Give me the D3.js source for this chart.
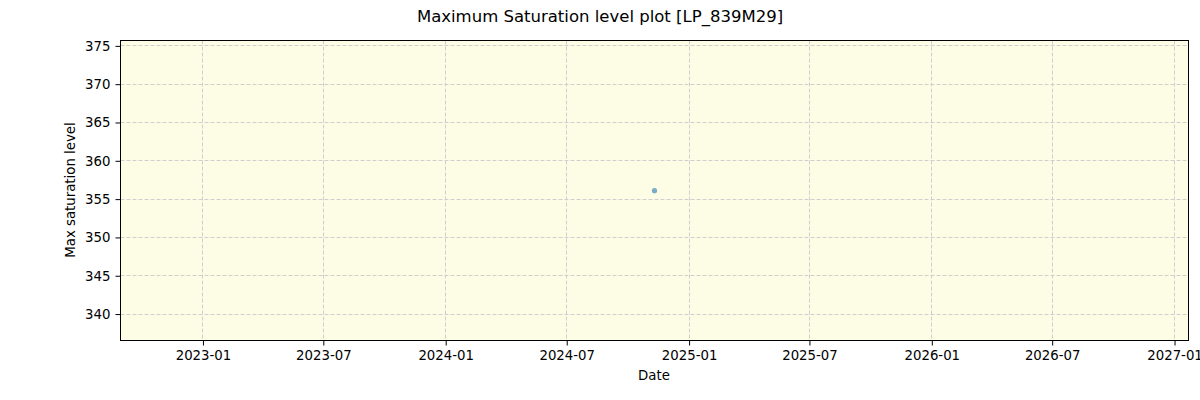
<!DOCTYPE html>
<html>
<head>
<meta charset="utf-8">
<script src="https://cdn.jsdelivr.net/npm/d3@7"></script>
<style>
  body { margin: 0; background: #fff; }
  svg { font-family: "DejaVu Sans", sans-serif; }
  .grid line { stroke: #cfcfcf; stroke-dasharray: 4,2; stroke-width: 1; }
</style>
</head>
<body>
<div id="chart"></div>
<script>
const WIDTH = 1200;
const HEIGHT = 400;
const margin = {top: 40.5, right: 11.5, bottom: 59.5, left: 120.5};

// data
var dates = ["2024-11-10"];
var maxSat = [356.1];
var yTicks = [340, 345, 350, 355, 360, 365, 370, 375];
var xTicks = ["2023-01-01", "2023-07-01", "2024-01-01", "2024-07-01", "2025-01-01", "2025-07-01", "2026-01-01", "2026-07-01", "2027-01-01"];
var xRange = ["2022-08-30", "2027-01-22"];
var yRange = [336.55, 375.7];

var parse = d3.timeParse("%Y-%m-%d");
var fmt = d3.timeFormat("%Y-%m");

var svg = d3.select("#chart").append("svg")
    .attr("width", WIDTH)
    .attr("height", HEIGHT);

var w = WIDTH - margin.left - margin.right;
var h = HEIGHT - margin.top - margin.bottom;

var x = d3.scaleTime().domain(xRange.map(parse)).range([0, w]);
var y = d3.scaleLinear().domain(yRange).range([h, 0]);

var g = svg.append("g").attr("transform", "translate(" + margin.left + "," + margin.top + ")");

g.append("rect")
    .attr("width", w)
    .attr("height", h)
    .attr("fill", "#fdfce4");

// grid
g.append("g").attr("class", "grid")
  .selectAll("line").data(xTicks.map(parse)).enter().append("line")
    .attr("x1", d => Math.round(x(d))).attr("x2", d => Math.round(x(d)))
    .attr("y1", 0).attr("y2", h);
g.append("g").attr("class", "grid")
  .selectAll("line").data(yTicks).enter().append("line")
    .attr("x1", 0).attr("x2", w)
    .attr("y1", d => Math.round(y(d))).attr("y2", d => Math.round(y(d)));

// points
g.selectAll("circle.pt").data(dates.map((d, i) => ({d: parse(d), v: maxSat[i]})))
  .enter().append("circle")
    .attr("class", "pt")
    .attr("cx", d => x(d.d))
    .attr("cy", d => y(d.v))
    .attr("r", 2.6)
    .attr("fill", "#1f77b4")
    .attr("fill-opacity", 0.6);

// axes
var xAxis = d3.axisBottom(x).tickValues(xTicks.map(parse)).tickFormat(fmt).tickSizeOuter(0).tickSize(5).tickPadding(5);
var yAxis = d3.axisLeft(y).tickValues(yTicks).tickSizeOuter(0).tickSize(5).tickPadding(5);

var gx = g.append("g").attr("transform", "translate(0," + h + ")").call(xAxis);
var gy = g.append("g").call(yAxis);
[gx, gy].forEach(function(a) {
  a.attr("font-family", "DejaVu Sans").attr("font-size", 13.3);
  a.select(".domain").remove();
  a.selectAll(".tick line").attr("stroke", "#000").attr("stroke-width", 1);
  a.selectAll(".tick text").attr("fill", "#000");
});

g.append("rect")
    .attr("width", w)
    .attr("height", h)
    .attr("fill", "none")
    .attr("stroke", "#000")
    .attr("stroke-width", 1);

// labels
svg.append("text")
    .attr("x", WIDTH / 2)
    .attr("y", 22)
    .attr("text-anchor", "middle")
    .attr("font-size", "16.5px")
    .text("Maximum Saturation level plot [LP_839M29]");

svg.append("text")
    .attr("x", 654)
    .attr("y", 380)
    .attr("text-anchor", "middle")
    .attr("font-size", "13.3px")
    .text("Date");

svg.append("text")
    .attr("transform", "translate(75,190) rotate(-90)")
    .attr("text-anchor", "middle")
    .attr("font-size", "13.3px")
    .text("Max saturation level");
</script>
</body>
</html>
